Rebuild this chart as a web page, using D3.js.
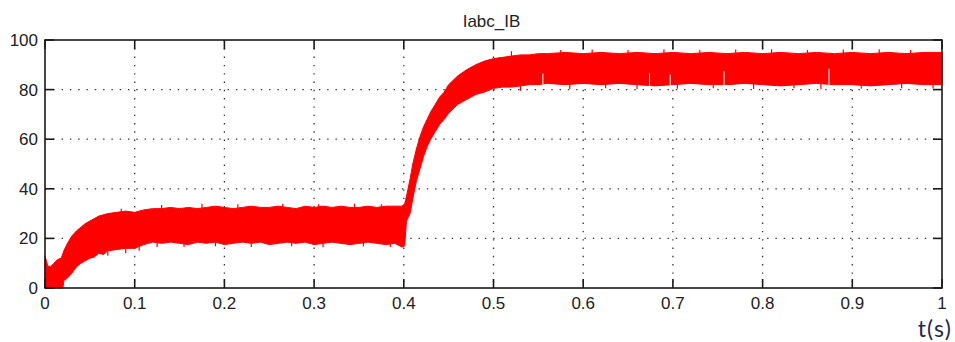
<!DOCTYPE html>
<html>
<head>
<meta charset="utf-8">
<script src="https://cdn.jsdelivr.net/npm/d3@7"></script>
<style>
  body { margin: 0; background: #fff; }
  svg { display: block; font-family: "Liberation Sans", Arial, sans-serif; }
  .grid line { stroke: #333; stroke-width: 1.3; stroke-dasharray: 1.4,6.9; }
  .tick-label { font-size: 17px; fill: #222; }
</style>
</head>
<body>
<svg width="955" height="342"></svg>
<script>
// envelope of the Iabc_IB signal
var times = [0, 0.003, 0.006, 0.010, 0.014, 0.018, 0.020, 0.021, 0.025, 0.030, 0.035, 0.040, 0.045, 0.050, 0.055, 0.060, 0.065, 0.070, 0.080, 0.090,
  0.100, 0.110, 0.120, 0.130, 0.140, 0.150, 0.160, 0.170, 0.180, 0.190, 0.200, 0.210, 0.220, 0.230, 0.240, 0.250, 0.260, 0.270, 0.280, 0.290,
  0.300, 0.310, 0.320, 0.330, 0.340, 0.350, 0.360, 0.370, 0.380, 0.390, 0.398, 0.401, 0.403, 0.407, 0.410, 0.414, 0.418, 0.422, 0.426, 0.430,
  0.435, 0.440, 0.445, 0.450, 0.460, 0.470, 0.480, 0.490, 0.500, 0.510, 0.520, 0.530, 0.540, 0.550, 0.560, 0.580, 0.600, 0.620, 0.640, 0.660,
  0.680, 0.700, 0.720, 0.740, 0.760, 0.780, 0.800, 0.820, 0.840, 0.860, 0.880, 0.900, 0.920, 0.940, 0.960, 0.980, 1.000];

var upper = [13, 9, 8.5, 10, 11.5, 12, 14, 15, 18, 21, 23, 24.5, 26, 27, 28, 29, 29.5, 30, 30.5, 31,
  30.5, 31.5, 32, 32, 32.5, 32, 32.5, 32, 32.5, 33, 32.5, 32, 32.5, 33, 32.5, 32.5, 33, 32.5, 32, 33,
  32.5, 33, 32.5, 33, 32.5, 32.5, 33, 32.5, 33, 33, 33, 34, 37, 44, 50, 56, 61, 65, 68, 71,
  74, 77, 79, 82, 85.5, 88, 90, 91.5, 92.5, 93, 93.5, 94, 94, 94.5, 94.5, 95, 94.5, 95, 94.5, 95,
  94.5, 95, 94.5, 95, 94.5, 95, 94.5, 95, 94.5, 95, 94.5, 95, 94.5, 95, 94.5, 95, 95];

var lower = [0, 0, 0, 0, 0, 0, 0, 3, 4, 6, 8.5, 10, 11, 12, 12.5, 14, 13.5, 15, 15.5, 16,
  16, 17.5, 18.5, 18, 18.5, 18, 17.5, 18.5, 18, 18.5, 17.5, 18, 18.5, 18, 18.5, 17.5, 18, 18.5, 18, 18.5,
  17.5, 18, 18.5, 18, 17.5, 18, 18.5, 18, 17.5, 18, 16.5, 17, 27, 30, 36, 43, 48, 53, 57, 60,
  63, 66, 68, 70.5, 74, 76, 78, 79, 80.5, 81, 81, 81.5, 82, 82, 82.5, 82, 82.5, 82, 82.5, 82,
  81.5, 82, 82.5, 82, 82, 82.5, 82, 81.5, 82, 82.5, 82, 82, 81.5, 82, 82.5, 82, 82];

// single samples that stick out of the band
var spikesUp = [[0.085, 32], [0.13, 33.5], [0.175, 34], [0.215, 33.8], [0.265, 34], [0.305, 33.8], [0.345, 34], [0.375, 33.8],
  [0.52, 95.5], [0.575, 96], [0.61, 96.2], [0.65, 96], [0.69, 96.3], [0.73, 96], [0.77, 96.2], [0.81, 96.3], [0.85, 96], [0.89, 96.2], [0.93, 96.3], [0.965, 96]];
var spikesDown = [[0.07, 13], [0.09, 14], [0.105, 15], [0.125, 16.5], [0.155, 16.5], [0.19, 16.8], [0.23, 16.5], [0.275, 16.8], [0.31, 16.5], [0.355, 16.8], [0.385, 16.5],
  [0.53, 79.5], [0.585, 80.2], [0.625, 80.5], [0.66, 80.2], [0.705, 80.3], [0.745, 80.5], [0.79, 80.2], [0.835, 80.5], [0.865, 80.2], [0.91, 80.3], [0.955, 80.5], [0.99, 80.4]];
// thin gaps cut up into the bottom of the band
var notches = [[0.555, 86.5], [0.674, 86.6], [0.697, 86], [0.757, 87.5], [0.874, 88.4]];

var xTicks = [0, 0.1, 0.2, 0.3, 0.4, 0.5, 0.6, 0.7, 0.8, 0.9, 1];
var yTicks = [0, 20, 40, 60, 80, 100];
var title = "Iabc_IB";
var xLabel = "t(s)";

var svg = d3.select("svg");
var margin = { top: 40, right: 13, bottom: 54, left: 45 };
var width = 955 - margin.left - margin.right;
var height = 342 - margin.top - margin.bottom;

var xScale = d3.scaleLinear().domain([0, 1]).range([margin.left, margin.left + width]);
var yScale = d3.scaleLinear().domain([0, 100]).range([margin.top + height, margin.top]);

var data = times.map(function (t, i) { return { t: t, hi: upper[i], lo: lower[i] }; });

// dotted grid
var grid = svg.append("g").attr("class", "grid");
grid.selectAll(".gx")
  .data(xTicks.slice(1, -1))
  .enter().append("line")
  .attr("x1", function (d) { return xScale(d); })
  .attr("x2", function (d) { return xScale(d); })
  .attr("y1", yScale(100)).attr("y2", yScale(0));
grid.selectAll(".gy")
  .data(yTicks.slice(1, -1))
  .enter().append("line")
  .attr("y1", function (d) { return yScale(d); })
  .attr("y2", function (d) { return yScale(d); })
  .attr("x1", xScale(0)).attr("x2", xScale(1));

// the signal band
var area = d3.area()
  .x(function (d) { return xScale(d.t); })
  .y0(function (d) { return yScale(d.lo); })
  .y1(function (d) { return yScale(d.hi); });

svg.append("path")
  .datum(data)
  .attr("fill", "#ff0000")
  .attr("stroke", "#ff0000")
  .attr("stroke-width", 1)
  .attr("d", area);

function bandAt(t, key) {
  var i = d3.bisector(function (d) { return d.t; }).left(data, t);
  if (i <= 0) return data[0][key];
  var a = data[i - 1], b = data[i];
  return a[key] + (b[key] - a[key]) * (t - a.t) / (b.t - a.t);
}

svg.selectAll(".spike-up")
  .data(spikesUp)
  .enter().append("line")
  .attr("x1", function (d) { return xScale(d[0]); })
  .attr("x2", function (d) { return xScale(d[0]); })
  .attr("y1", function (d) { return yScale(bandAt(d[0], "hi")); })
  .attr("y2", function (d) { return yScale(d[1]); })
  .attr("stroke", "#ff0000").attr("stroke-width", 1.2);

svg.selectAll(".spike-down")
  .data(spikesDown)
  .enter().append("line")
  .attr("x1", function (d) { return xScale(d[0]); })
  .attr("x2", function (d) { return xScale(d[0]); })
  .attr("y1", function (d) { return yScale(bandAt(d[0], "lo")); })
  .attr("y2", function (d) { return yScale(d[1]); })
  .attr("stroke", "#ff0000").attr("stroke-width", 1.2);

svg.selectAll(".notch")
  .data(notches)
  .enter().append("line")
  .attr("x1", function (d) { return xScale(d[0]); })
  .attr("x2", function (d) { return xScale(d[0]); })
  .attr("y1", function (d) { return yScale(bandAt(d[0], "lo")) + 1; })
  .attr("y2", function (d) { return yScale(d[1]); })
  .attr("stroke", "#fff").attr("stroke-width", 1);

// box with inward ticks on every side
var tickLen = 9;
var axes = svg.append("g").attr("stroke", "#1a1a1a").attr("stroke-width", 1.6);
axes.append("rect")
  .attr("x", xScale(0)).attr("y", yScale(100))
  .attr("width", width).attr("height", height)
  .attr("fill", "none");
xTicks.forEach(function (d) {
  axes.append("line").attr("x1", xScale(d)).attr("x2", xScale(d)).attr("y1", yScale(0)).attr("y2", yScale(0) - tickLen);
  axes.append("line").attr("x1", xScale(d)).attr("x2", xScale(d)).attr("y1", yScale(100)).attr("y2", yScale(100) + tickLen);
});
yTicks.forEach(function (d) {
  axes.append("line").attr("y1", yScale(d)).attr("y2", yScale(d)).attr("x1", xScale(0)).attr("x2", xScale(0) + tickLen);
  axes.append("line").attr("y1", yScale(d)).attr("y2", yScale(d)).attr("x1", xScale(1)).attr("x2", xScale(1) - tickLen);
});

// tick labels
svg.selectAll(".xl")
  .data(xTicks)
  .enter().append("text")
  .attr("class", "tick-label")
  .attr("x", function (d) { return xScale(d); })
  .attr("y", yScale(0) + 21)
  .attr("text-anchor", "middle")
  .text(function (d) { return d3.format("")(d); });

svg.selectAll(".yl")
  .data(yTicks)
  .enter().append("text")
  .attr("class", "tick-label")
  .attr("x", xScale(0) - 7)
  .attr("y", function (d) { return yScale(d) + 6; })
  .attr("text-anchor", "end")
  .text(function (d) { return d; });

svg.append("text")
  .attr("x", (xScale(0) + xScale(1)) / 2 - 2)
  .attr("y", 27)
  .attr("text-anchor", "middle")
  .attr("font-size", 17)
  .attr("fill", "#222")
  .text(title);

svg.append("text")
  .attr("x", 952)
  .attr("y", 336.5)
  .attr("text-anchor", "end")
  .attr("font-family", "Lato, 'Noto Sans', sans-serif")
  .attr("font-size", 23)
  .attr("letter-spacing", 1.2)
  .attr("fill", "#1e2b45")
  .text(xLabel);
</script>
</body>
</html>
